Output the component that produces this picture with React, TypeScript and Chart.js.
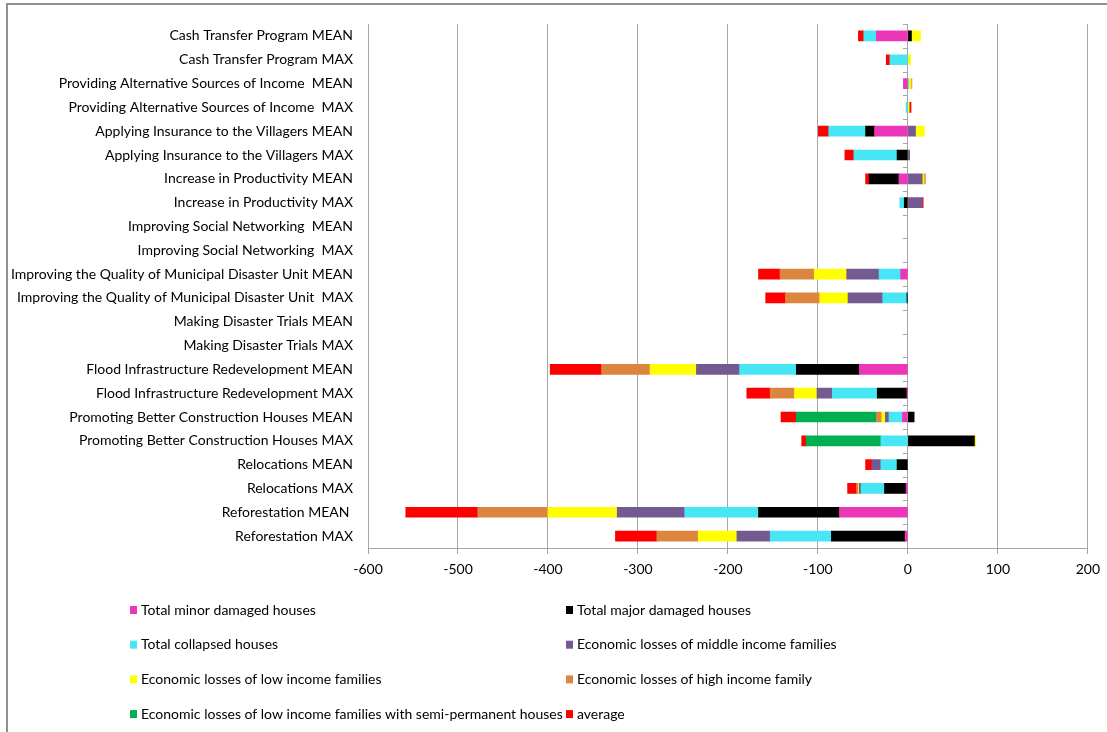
import { useEffect, useRef } from "react";
import { Chart, registerables } from "chart.js";
Chart.register(...registerables);

const categories = [
  "Cash Transfer Program MEAN",
  "Cash Transfer Program MAX",
  "Providing Alternative Sources of Income  MEAN",
  "Providing Alternative Sources of Income  MAX",
  "Applying Insurance to the Villagers MEAN",
  "Applying Insurance to the Villagers MAX",
  "Increase in Productivity MEAN",
  "Increase in Productivity MAX",
  "Improving Social Networking  MEAN",
  "Improving Social Networking  MAX",
  "Improving the Quality of Municipal Disaster Unit MEAN",
  "Improving the Quality of Municipal Disaster Unit  MAX",
  "Making Disaster Trials MEAN",
  "Making Disaster Trials MAX",
  "Flood Infrastructure Redevelopment MEAN",
  "Flood Infrastructure Redevelopment MAX",
  "Promoting Better Construction Houses MEAN",
  "Promoting Better Construction Houses MAX",
  "Relocations MEAN",
  "Relocations MAX",
  "Reforestation MEAN ",
  "Reforestation MAX",
];

const minorDamaged = [-35, 0, -5, 0, -37, 0, -10, 0, 0, 0, -8, 0, 0, 0, -54, -1, -6, 0, 0, -2, -76, -3];
const majorDamaged = [4, 0, 0, 0, -10, -12, -33, -4, 0, 0, 0, -1, 0, 0, -70, -33, 7, 74, -12, -24, -90, -82];
const collapsed = [-14, -20, 1, -2, -41, -48, 0, -5, 0, 0, -24, -27, 0, 0, -63, -50, -15, -30, -18, -26, -82, -68];
const middleIncome = [0, 0, 0, 0, 8.5, 2, 16, 16, 0, 0, -36, -38.5, 0, 0, -48, -17, -4, 0, -10, -2, -75, -37];
const lowIncome = [10, 3, 2.5, 1, 10, 0, 2, 0, 0, 0, -36, -31.5, 0, 0, -51.5, -25, -4, 1.5, 0, -1, -77, -43];
const highIncome = [0, 0, 1, 1, 0, 0, 1.5, 0, 0, 0, -38, -38, 0, 0, -54, -27, -6, 0, 0, -2, -78, -46];
const semiPermanent = [0, 0, 0, 0, 0, 0, 0, 0, 0, 0, 0, 0, 0, 0, 0, 0, -89, -83, 0, 0, 0, 0];
const average = [-6, -4, 0, 1.5, -11.5, -10, -4, 1, 0, 0, -24, -22, 0, 0, -57, -26, -17, -5, -7, -10, -80, -46];

const seriesLabels = [
  "Total minor damaged houses",
  "Total major damaged houses",
  "Total collapsed houses",
  "Economic losses of middle income families",
  "Economic losses of low income families",
  "Economic losses of high income family",
  "Economic losses of low income families with semi-permanent houses",
  "average",
];
const seriesValues = [minorDamaged, majorDamaged, collapsed, middleIncome, lowIncome, highIncome, semiPermanent, average];
const seriesColors = ["#EC36B8", "#000000", "#47E6F5", "#735B91", "#FFFF00", "#DC853E", "#00B050", "#FF0000"];

const xMin = -600;
const xMax = 200;
const xStep = 100;

const FONT = 'Lato, "Liberation Sans", sans-serif';
const FONT_SIZE = 14;

export default function App() {
  const ref = useRef<HTMLCanvasElement>(null);

  useEffect(() => {
    if (!ref.current) return;

    const zeroTicks = {
      id: "zeroTicks",
      beforeDatasetsDraw(chart: any) {
        const { ctx, chartArea, scales } = chart;
        const x0 = scales.x.getPixelForValue(0);
        const n = categories.length;
        const h = (chartArea.bottom - chartArea.top) / n;
        ctx.save();
        ctx.strokeStyle = "#a6a6a6";
        ctx.lineWidth = 1;
        ctx.beginPath();
        for (let i = 0; i <= n; i++) {
          const y = Math.round(chartArea.top + i * h) + 0.5;
          ctx.moveTo(x0 - 5, y);
          ctx.lineTo(x0, y);
        }
        ctx.stroke();
        ctx.restore();
      },
    };

    const customLegend = {
      id: "customLegend",
      afterDraw(chart: any) {
        const { ctx } = chart;
        const ds = chart.data.datasets;
        const cols = [130, 566];
        const rowY0 = 610;
        const rowGap = 34.7;
        ctx.save();
        ctx.font = `${FONT_SIZE}px ${FONT}`;
        ctx.textBaseline = "middle";
        ctx.textAlign = "left";
        ds.forEach((d: any, i: number) => {
          const col = i % 2;
          const row = Math.floor(i / 2);
          const x = cols[col];
          const y = rowY0 + row * rowGap;
          ctx.fillStyle = d.backgroundColor;
          ctx.fillRect(x, y - 4, 7, 8);
          ctx.fillStyle = "#000";
          ctx.fillText(d.label, x + 11, y);
        });
        ctx.restore();
      },
    };

    const chart = new Chart(ref.current, {
      type: "bar",
      data: {
        labels: categories,
        datasets: seriesLabels.map((label, i) => ({
          label,
          data: seriesValues[i].map((v) => (v === 0 ? null : v)),
          backgroundColor: seriesColors[i],
          borderWidth: 0,
          barThickness: 10,
        })),
      },
      options: {
        indexAxis: "y",
        responsive: false,
        animation: false,
        layout: { padding: { left: 0, right: 19, top: 24, bottom: 0 } },
        plugins: {
          legend: { display: false },
          tooltip: { enabled: false },
        },
        scales: {
          x: {
            stacked: true,
            min: xMin,
            max: xMax,
            ticks: { stepSize: xStep, color: "#000", font: { family: FONT, size: FONT_SIZE }, padding: 7 },
            grid: { color: "#a6a6a6", lineWidth: 1, tickLength: 6 },
            border: { color: "#a6a6a6" },
            afterFit(s: any) {
              s.height = 184;
            },
          },
          y: {
            stacked: true,
            grid: { display: false },
            border: { display: false },
            ticks: { color: "#000", font: { family: FONT, size: FONT_SIZE }, padding: 7, autoSkip: false },
            afterFit(s: any) {
              s.width = 368;
            },
          },
        },
      } as any,
      plugins: [zeroTicks, customLegend],
    });
    return () => chart.destroy();
  }, []);

  return (
    <div style={{ position: "absolute", left: 0, top: 0, width: 1107, height: 732, overflow: "hidden", background: "#fff" }}>
      <div
        style={{
          position: "absolute",
          left: 6,
          top: 3,
          width: 1140,
          height: 760,
          border: "2px solid #909090",
          boxSizing: "border-box",
        }}
      />
      <canvas ref={ref} width={1107} height={732} style={{ position: "absolute", left: 0, top: 0 }} />
    </div>
  );
}
